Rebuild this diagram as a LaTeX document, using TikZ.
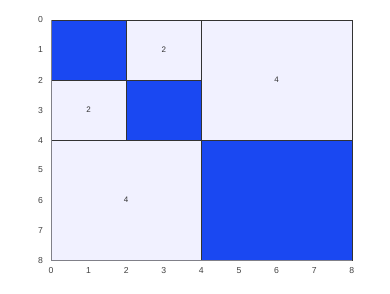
\documentclass[tikz,border=0pt]{standalone}
\usepackage{fontspec}
\setmainfont{Liberation Sans}
\definecolor{blockblue}{RGB}{26,72,242}
\definecolor{blocklight}{RGB}{241,241,255}
\definecolor{axisgray}{RGB}{128,128,136}
\begin{document}
\begin{tikzpicture}[x=28.2pt,y=-22.5pt,
  full/.style={fill=blockblue,draw=black!80,line width=0.4pt},
  empty/.style={fill=blocklight,draw=black!80,line width=0.4pt},
  rank/.style={font=\fontsize{6}{7}\selectfont,text=black!80},
  tick/.style={font=\fontsize{6.5}{7.5}\selectfont,text=black!75,inner sep=1pt}]
\useasboundingbox (-1.356,-0.667) rectangle (9.016,9.1);
\fill[empty] (2,0) rectangle (4,2);
\fill[empty] (0,2) rectangle (2,4);
\fill[empty] (4,0) rectangle (8,4);
\fill[empty] (0,4) rectangle (4,8);
\fill[full] (0,0) rectangle (2,2);
\fill[full] (2,2) rectangle (4,4);
\fill[full] (4,4) rectangle (8,8);
\node[rank] (r12) at (3,1) {2};
\node[rank] (r21) at (1,3) {2};
\node[rank] (r13) at (6,2) {4};
\node[rank] (r31) at (2,6) {4};
\coordinate (o) at (0,8);
\coordinate (xend) at (8,8);
\coordinate (yend) at (0,0);
\draw[axisgray,line width=0.6pt] (yend) -- (o) -- (xend);
\foreach \i in {0,...,8} {
  \node[tick,anchor=north] (xl\i) at (\i,8.2) {\i};
  \node[tick,anchor=east] (yl\i) at (-0.17,\i) {\i};
}
\end{tikzpicture}
\end{document}
